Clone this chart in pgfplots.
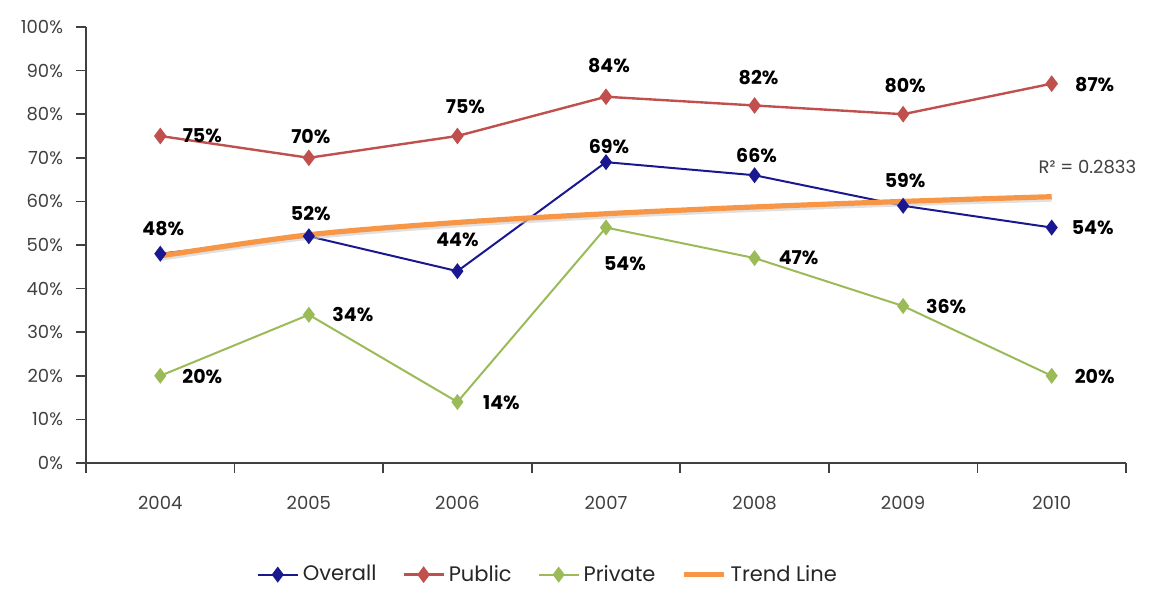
\documentclass[border=0pt]{standalone}
\usepackage{pgfplots}
\pgfplotsset{compat=1.18}
\usepackage{fontspec}
\setmainfont{Poppins}
\definecolor{cOver}{HTML}{1A1890}
\definecolor{cPub}{HTML}{C0504D}
\definecolor{cPri}{HTML}{9BBB59}
\definecolor{cTr}{HTML}{F79646}
\definecolor{cAx}{HTML}{404040}
\begin{document}
\begin{tikzpicture}
\begin{axis}[
  scale only axis, width=520pt, height=218pt,
  xmin=-0.5, xmax=6.5, ymin=0, ymax=100,
  clip=false,
  axis x line=bottom, axis y line=left,
  axis line style={-, cAx, line width=0.8pt},
  xtick={0,...,6},
  xticklabels={2004,2005,2006,2007,2008,2009,2010},
  major x tick style={draw=none},
  minor xtick={-0.5,0.5,...,6.5},
  minor x tick style={cAx, line width=0.8pt},
  minor tick length=5pt,
  ytick={0,10,...,100},
  y tick style={cAx, line width=0.8pt},
  major tick length=5pt,
  tick align=outside,
  yticklabel={\pgfmathprintnumber{\tick}\%},
  /pgf/number format/assume math mode=true,
  tick label style={font=\fontsize{9}{11}\selectfont, text=cAx},
  xticklabel style={yshift=-8pt},
  yticklabel style={xshift=-3pt},
  nodes near coords={\pgfmathprintnumber{\pgfplotspointmeta}\%},
  point meta=y,
  every node near coord/.append style={font=\fontsize{9.5}{11}\selectfont\bfseries, text=black, anchor=center, inner sep=0pt, xshift=\dx pt, yshift=\dy pt},
  visualization depends on={\thisrow{dx}\as\dx},
  visualization depends on={\thisrow{dy}\as\dy},
  legend columns=4,
  legend style={at={(0.445,-0.256)}, anchor=center, draw=none, fill=none,
    font=\fontsize{10.5}{11}\selectfont, text=black!85, inner sep=0pt,
    /tikz/every even column/.append style={column sep=11pt},
    /tikz/every odd column/.append style={column sep=0pt},
    nodes={inner xsep=2pt}},
  legend image code/.code={\draw[#1] (0pt,0pt) -- (10pt,0pt) (10pt,0pt) -- (20pt,0pt); \path[#1, only marks] plot coordinates {(10pt,0pt)};},
]
\addplot[cOver, line width=1pt, mark=diamond*, mark size=3.2pt, mark options={solid}] table {
x y dx dy
0 48 1.5 12.5
1 52 1 11.5
2 44 0 15.5
3 69 1.5 8
4 66 1 10
5 59 1 12.5
6 54 20.5 0
};
\addlegendentry{Overall}
\addplot[cPub, line width=1.2pt, mark=diamond*, mark size=3.2pt] table {
x y dx dy
0 75 21 0
1 70 1 10.5
2 75 4 14.5
3 84 1.5 15.5
4 82 2 14
5 80 1 14.5
6 87 21.5 -0.5
};
\addlegendentry{Public}
\addplot[cPri, line width=1pt, mark=diamond*, mark size=3.2pt] table {
x y dx dy
0 20 21 -0.5
1 34 22 0
2 14 22 -0.5
3 54 9.5 -18
4 47 22 0
5 36 21.5 0
6 20 21.5 -0.5
};
\addlegendentry{Private}
\addplot[black!20, line width=2.6pt, opacity=0.6, nodes near coords={}, forget plot, yshift=-1.2pt, smooth] table {
x y dx dy
0 47.5 0 0
1 52.34 0 0
2 55.17 0 0
3 57.17 0 0
4 58.73 0 0
5 60.00 0 0
6 61.08 0 0
};
\addplot[cTr, line width=2.6pt, nodes near coords={}, smooth, mark=none] table {
x y dx dy
0 47.5 0 0
1 52.34 0 0
2 55.17 0 0
3 57.17 0 0
4 58.73 0 0
5 60.00 0 0
6 61.08 0 0
};
\addlegendentry{Trend Line}
\node[font=\fontsize{9}{11}\selectfont, text=cAx] at (axis cs:6.24,67.9) {R² = 0.2833};
\end{axis}
\pgfresetboundingbox
\useasboundingbox ([xshift=-43pt,yshift=-63pt]current axis.south west) rectangle ([xshift=532pt,yshift=231.5pt]current axis.south west);
\end{tikzpicture}
\end{document}
